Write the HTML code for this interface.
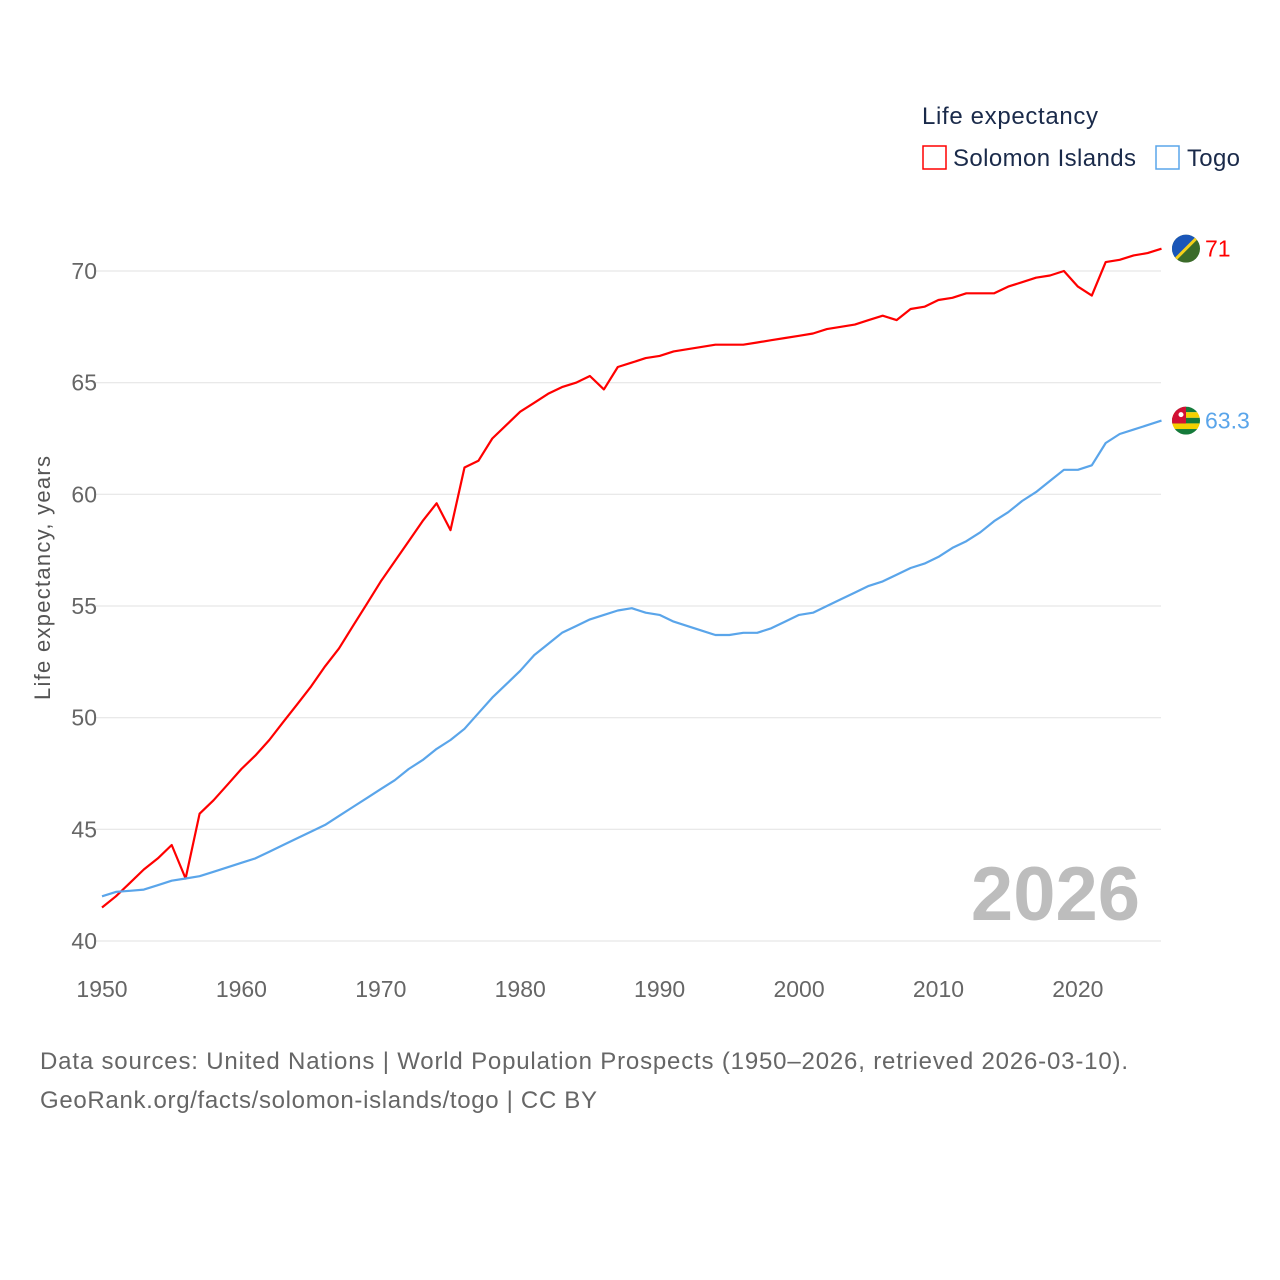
<!DOCTYPE html>
<html><head><meta charset="utf-8"><style>
html,body{margin:0;padding:0;background:#fff;}
svg{display:block;font-family:"Liberation Sans",sans-serif;}
</style></head><body>
<svg id="chart" width="1280" height="1280" viewBox="0 0 1280 1280">
<g id="grid"></g>
<g id="yticks"></g>
<g id="xticks"></g>
<text x="50" y="578" transform="rotate(-90 50 578)" text-anchor="middle" font-size="22" textLength="244" fill="#555">Life expectancy, years</text>
<text x="1140" y="920" text-anchor="end" font-size="76" font-weight="bold" fill="#bdbdbd">2026</text>
<g id="series"></g>
<g>
<text x="922" y="124" font-size="24" textLength="176" fill="#1a2a4a">Life expectancy</text>
<g>
<rect x="923" y="146" width="23" height="23" fill="none" stroke="#ff0000" stroke-width="1.5"/>
<text x="953" y="166" font-size="24" textLength="183" fill="#1a2a4a">Solomon Islands</text></g>
<g>
<rect x="1156" y="146" width="23" height="23" fill="none" stroke="#5aa5ea" stroke-width="1.5"/>
<text x="1187" y="166" font-size="24" textLength="53" fill="#1a2a4a">Togo</text></g>
</g>
<g>
<text x="40" y="1069" font-size="24" textLength="1088" fill="#666">Data sources: United Nations | World Population Prospects (1950–2026, retrieved 2026-03-10).</text>
<text x="40" y="1108" font-size="24" textLength="557" fill="#666">GeoRank.org/facts/solomon-islands/togo | CC BY</text>
</g>
<defs>
<clipPath id="c1"><circle cx="1186" cy="248" r="14"/></clipPath>
<clipPath id="c2"><circle cx="1186" cy="420" r="14"/></clipPath>
</defs>
</svg>
<script>
const years = [];
for (let y = 1950; y <= 2026; y++) years.push(y);
const solomonIslands = [41.5,42.0,42.6,43.2,43.7,44.3,42.8,45.7,46.3,47.0,47.7,48.3,49.0,49.8,50.6,51.4,52.3,53.1,54.1,55.1,56.1,57.0,57.9,58.8,59.6,58.4,61.2,61.5,62.5,63.1,63.7,64.1,64.5,64.8,65.0,65.3,64.7,65.7,65.9,66.1,66.2,66.4,66.5,66.6,66.7,66.7,66.7,66.8,66.9,67.0,67.1,67.2,67.4,67.5,67.6,67.8,68.0,67.8,68.3,68.4,68.7,68.8,69.0,69.0,69.0,69.3,69.5,69.7,69.8,70.0,69.3,68.9,70.4,70.5,70.7,70.8,71.0];
const togo = [42.0,42.2,42.25,42.3,42.5,42.7,42.8,42.9,43.1,43.3,43.5,43.7,44.0,44.3,44.6,44.9,45.2,45.6,46.0,46.4,46.8,47.2,47.7,48.1,48.6,49.0,49.5,50.2,50.9,51.5,52.1,52.8,53.3,53.8,54.1,54.4,54.6,54.8,54.9,54.7,54.6,54.3,54.1,53.9,53.7,53.7,53.8,53.8,54.0,54.3,54.6,54.7,55.0,55.3,55.6,55.9,56.1,56.4,56.7,56.9,57.2,57.6,57.9,58.3,58.8,59.2,59.7,60.1,60.6,61.1,61.1,61.3,62.3,62.7,62.9,63.1,63.3];
const yTicks = [40,45,50,55,60,65,70];
const xTicks = [1950,1960,1970,1980,1990,2000,2010,2020];
const endLabels = ["71","63.3"];

const NS = "http://www.w3.org/2000/svg";
const xS = v => 102 + (v - 1950) * (1161.5 - 102) / 76;
const yS = v => 941 - (v - 40) * (941 - 271) / 30;
function mk(tag, attrs, parent) {
  const e = document.createElementNS(NS, tag);
  for (const k in attrs) e.setAttribute(k, attrs[k]);
  parent.appendChild(e); return e;
}
const grid = document.getElementById('grid'), yt = document.getElementById('yticks'), xt = document.getElementById('xticks'), ser = document.getElementById('series');
yTicks.forEach(t => {
  const l = mk('line', {x1: 95, x2: 1161, y1: yS(t), y2: yS(t), stroke: '#e6e6e6', 'stroke-width': 1.2}, grid);
  
  
  const tx = mk('text', {x: 97, y: yS(t) + 8, 'text-anchor': 'end', 'font-size': 23, fill: '#666'}, yt);
  tx.textContent = t;
  
  
});
xTicks.forEach(t => {
  const tx = mk('text', {x: xS(t), y: 997, 'text-anchor': 'middle', 'font-size': 23, fill: '#666'}, xt);
  tx.textContent = t;
  
  
});
function line(vals, color, name) {
  const d = vals.map((v, i) => (i ? 'L' : 'M') + xS(years[i]).toFixed(1) + ' ' + yS(v).toFixed(1)).join(' ');
  const p = mk('path', {d: d, fill: 'none', stroke: color, 'stroke-width': 2.2, 'stroke-linejoin': 'round'}, ser);
  
  
}
line(solomonIslands, '#ff0000', 'line-solomon-islands');
line(togo, '#5aa5ea', 'line-togo');
const svg = document.getElementById('chart');
const sY = yS(solomonIslands[solomonIslands.length - 1]), tY = yS(togo[togo.length - 1]);
const f1 = mk('g', {'clip-path': 'url(#c1)', transform: 'translate(0,' + (sY - 248) + ')'}, svg);


mk('rect', {x: 1172, y: 234, width: 28, height: 28, fill: '#3b6b2a'}, f1);
mk('polygon', {points: '1172,234 1200,234 1172,262', fill: '#1a56b8'}, f1);
mk('line', {x1: 1200, y1: 234, x2: 1172, y2: 262, stroke: '#f5d01a', 'stroke-width': 3}, f1);
const f2 = mk('g', {'clip-path': 'url(#c2)', transform: 'translate(0,' + (tY - 420) + ')'}, svg);


for (let i = 0; i < 5; i++) mk('rect', {x: 1172, y: 406 + i * 5.6, width: 28, height: 5.6, fill: i % 2 ? '#f4d000' : '#157a3a'}, f2);
mk('rect', {x: 1172, y: 406, width: 14, height: 16.8, fill: '#d21034'}, f2);
mk('circle', {cx: 1181, cy: 414, r: 2.5, fill: '#fff'}, f2);
const l1 = mk('text', {x: 1205, y: sY + 8, 'font-size': 23, fill: '#ff0000'}, svg);
l1.textContent = endLabels[0];


const l2 = mk('text', {x: 1205, y: tY + 8, 'font-size': 23, fill: '#5aa5ea'}, svg);
l2.textContent = endLabels[1];


</script>
</body></html>
